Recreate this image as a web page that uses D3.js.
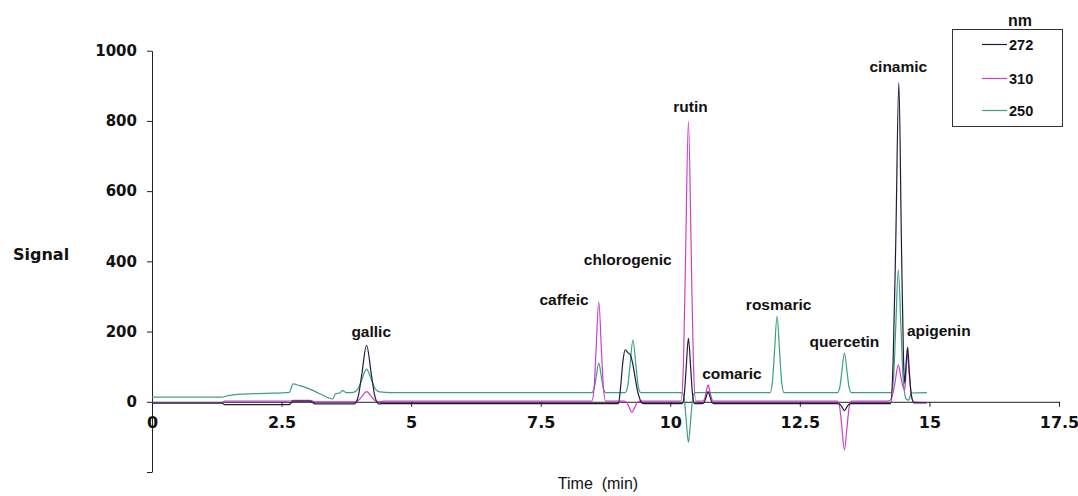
<!DOCTYPE html>
<html>
<head>
<meta charset="utf-8">
<script src="https://cdn.jsdelivr.net/npm/d3@7"></script>
<style>
  html, body { margin: 0; padding: 0; background: #fff; }
  svg { display: block; }
</style>
</head>
<body>
<svg id="chart" width="1078" height="496"></svg>
<script>
// ---- data ----
const seriesNames = ["272", "310", "250"];
const seriesColors = ["#1e1e3a", "#cc3fcc", "#3c9e84"];

const time272 = [0, 1.35, 1.4, 2.65, 2.72, 3.05, 3.15, 3.85,
  3.903, 3.982, 4.047, 4.14, 4.233, 4.298, 4.377,
  4.5, 8.95,
  9.0, 9.04, 9.09, 9.13, 9.18, 9.23, 9.28, 9.32, 9.37, 9.42, 9.48,
  10.23, 10.27, 10.303, 10.35, 10.397, 10.43, 10.47,
  10.625, 10.66, 10.689, 10.73, 10.771, 10.80, 10.835,
  13.24, 13.28, 13.313, 13.36, 13.407, 13.44, 13.48,
  14.25, 14.30, 14.35, 14.41, 14.46, 14.50, 14.525, 14.55, 14.58, 14.61, 14.65, 14.70, 14.95];
const signal272 = [-4, -4, -8, -8, 2, 2, -6, -6,
  -6, 17, 77, 161, 77, 17, -6,
  -5, -5,
  -5, 40, 120, 148, 140, 134, 105, 70, 30, 5, -5,
  -5, 20, 88, 181, 88, 20, -5,
  -5, 0, 12, 29, 12, 0, -5,
  -5, -8, -15, -25, -15, -8, -5,
  -5, 118, 452, 909, 452, 120, 53, 110, 156, 90, 20, -3, -3];

const time310 = [0, 1.35, 1.4, 2.65, 2.72, 3.05, 3.15, 3.85,
  3.90, 3.98, 4.046, 4.14, 4.234, 4.30, 4.38,
  4.5,
  8.485, 8.53, 8.567, 8.62, 8.673, 8.71, 8.755,
  9.11, 9.16, 9.20, 9.26, 9.32, 9.36, 9.41,
  10.206, 10.254, 10.293, 10.35, 10.407, 10.446, 10.494,
  10.625, 10.66, 10.689, 10.73, 10.771, 10.80, 10.835,
  13.225, 13.27, 13.307, 13.36, 13.413, 13.45, 13.495,
  14.20, 14.27, 14.33, 14.40, 14.45, 14.50, 14.525, 14.55, 14.575, 14.61, 14.65, 14.70, 14.95];
const signal310 = [-2, -2, 2, 2, 4, 4, 0, 0,
  0, 4, 14.5, 29, 14.5, 4, 0,
  2,
  2, 40, 143, 285, 143, 40, 2,
  2, -2, -14, -30, -14, -2, 2,
  2, 109, 400, 798, 400, 109, 2,
  2, 8, 25, 48, 25, 8, 2,
  2, -17, -67, -137, -67, -17, 2,
  2, 10, 50, 105, 70, 38, 34, 90, 139, 80, 20, 0, -2];

const time250 = [0, 1.35, 1.45, 1.76, 2.2, 2.65, 2.72, 2.85, 3.0, 3.24, 3.49, 3.54, 3.62, 3.68, 3.75, 3.885,
  3.97, 4.04, 4.14, 4.24, 4.31, 4.395,
  4.6,
  8.485, 8.53, 8.567, 8.62, 8.673, 8.71, 8.755,
  9.13, 9.18, 9.221, 9.28, 9.339, 9.38, 9.43,
  10.23, 10.27, 10.303, 10.35, 10.397, 10.43, 10.47,
  11.925, 11.97, 12.007, 12.06, 12.113, 12.15, 12.195,
  13.225, 13.27, 13.307, 13.36, 13.413, 13.45, 13.495,
  14.265, 14.31, 14.347, 14.40, 14.453, 14.49, 14.55, 14.60, 14.65, 14.95];
const signal250 = [13, 13, 17, 22, 24, 27, 51, 46, 39, 23, 8, 23, 25, 32, 26, 27,
  36, 60, 93, 60, 36, 28,
  26,
  26, 37, 68, 110, 68, 37, 26,
  26, 46, 101, 176, 101, 46, 26,
  26, 7, -45, -116, -45, 7, 26,
  26, 55, 134, 243, 134, 55, 26,
  26, 41, 82, 139, 82, 41, 26,
  26, 73, 201, 376, 201, 73, 8, 5, 25, 26];

const peakNames = ["gallic", "caffeic", "chlorogenic", "rutin", "comaric", "rosmaric", "quercetin", "cinamic", "apigenin"];
const peakLabelTimes = [4.23, 7.95, 9.18, 10.39, 11.19, 12.09, 13.36, 14.40, 15.18];
const peakLabelSignals = [185, 276, 390, 825, 66, 262, 157, 938, 186];

const xTicks = [0, 2.5, 5, 7.5, 10, 12.5, 15, 17.5];
const xTickLabels = ["0", "2.5", "5", "7.5", "10", "12.5", "15", "17.5"];
const yTicks = [-200, 0, 200, 400, 600, 800, 1000];
const yTickLabels = ["", "0", "200", "400", "600", "800", "1000"];

// ---- drawing ----
const svg = d3.select("#chart");
svg.append("rect").attr("width", 1078).attr("height", 496).attr("fill", "#fff");

const x = d3.scaleLinear().domain([0, 17.5]).range([152, 1059]);
const y = d3.scaleLinear().domain([-200, 1000]).range([472, 50.7]);

const axisColor = "#222";

// y axis
const yAxis = svg.append("g")
  .attr("transform", `translate(${x(0)},0)`)
  .call(d3.axisLeft(y).tickValues(yTicks).tickSize(5).tickSizeOuter(0).tickPadding(10)
    .tickFormat((d, i) => yTickLabels[i]));
yAxis.select(".domain").attr("stroke", axisColor);
yAxis.selectAll(".tick line").attr("stroke", axisColor);
yAxis.selectAll("text")
  .attr("fill", "#111")
  .style("font-family", "'DejaVu Sans', sans-serif")
  .style("font-weight", "bold")
  .style("font-size", "15px");

// x axis
const xAxis = svg.append("g")
  .attr("transform", `translate(0,${y(0)})`)
  .call(d3.axisBottom(x).tickValues(xTicks).tickSize(5).tickSizeOuter(0).tickPadding(10)
    .tickFormat((d, i) => xTickLabels[i]));
xAxis.select(".domain").attr("stroke", axisColor);
xAxis.selectAll(".tick line").attr("stroke", axisColor);
xAxis.selectAll("text")
  .attr("fill", "#111")
  .style("font-family", "'DejaVu Sans', sans-serif")
  .style("font-weight", "bold")
  .style("font-size", "16px");

// traces
const seriesData = [
  { name: "250", color: seriesColors[2], t: time250, s: signal250 },
  { name: "310", color: seriesColors[1], t: time310, s: signal310 },
  { name: "272", color: seriesColors[0], t: time272, s: signal272 }
];
const line = d3.line()
  .x(d => x(d[0]))
  .y(d => y(d[1]))
  .curve(d3.curveMonotoneX);

seriesData.forEach(sd => {
  const pts = sd.t.map((t, i) => [t, sd.s[i]]);
  svg.append("path")
    .datum(pts)
    .attr("d", line)
    .attr("fill", "none")
    .attr("stroke", sd.color)
    .attr("stroke-width", 1.2)
    .attr("stroke-linejoin", "round");
});

// peak labels
svg.append("g").selectAll("text")
  .data(peakNames)
  .join("text")
  .attr("x", (d, i) => x(peakLabelTimes[i]))
  .attr("y", (d, i) => y(peakLabelSignals[i]))
  .attr("text-anchor", "middle")
  .attr("fill", "#111")
  .style("font-family", "'Liberation Sans', Arial, sans-serif")
  .style("font-weight", "bold")
  .style("font-size", "15.5px")
  .text(d => d);

// axis titles
svg.append("text")
  .attr("x", 13).attr("y", 260)
  .attr("fill", "#111")
  .style("font-family", "'DejaVu Sans', sans-serif")
  .style("font-weight", "bold")
  .style("font-size", "16px")
  .text("Signal");

svg.append("text")
  .attr("x", 598).attr("y", 489)
  .attr("text-anchor", "middle")
  .attr("fill", "#111")
  .style("font-family", "'Liberation Sans', Arial, sans-serif")
  .style("font-size", "16px")
  .style("white-space", "pre")
  .attr("xml:space", "preserve")
  .text("Time  (min)");

// legend
const legend = svg.append("g");
legend.append("text")
  .attr("x", 1020).attr("y", 26)
  .attr("text-anchor", "middle")
  .attr("fill", "#111")
  .style("font-family", "'Liberation Sans', Arial, sans-serif")
  .style("font-weight", "bold")
  .style("font-size", "16px")
  .text("nm");
legend.append("rect")
  .attr("x", 952.5).attr("y", 29.5)
  .attr("width", 110).attr("height", 97)
  .attr("fill", "#fff")
  .attr("stroke", "#333")
  .attr("stroke-width", 1);
const legendY = [44.5, 78.5, 110.5];
seriesNames.forEach((n, i) => {
  legend.append("line")
    .attr("x1", 982).attr("x2", 1007)
    .attr("y1", legendY[i]).attr("y2", legendY[i])
    .attr("stroke", seriesColors[i])
    .attr("stroke-width", 1.2);
  legend.append("text")
    .attr("x", 1009).attr("y", legendY[i] + 5.5)
    .attr("fill", "#111")
    .style("font-family", "'Liberation Sans', Arial, sans-serif")
    .style("font-weight", "bold")
    .style("font-size", "14.5px")
    .text(n);
});
</script>
</body>
</html>
